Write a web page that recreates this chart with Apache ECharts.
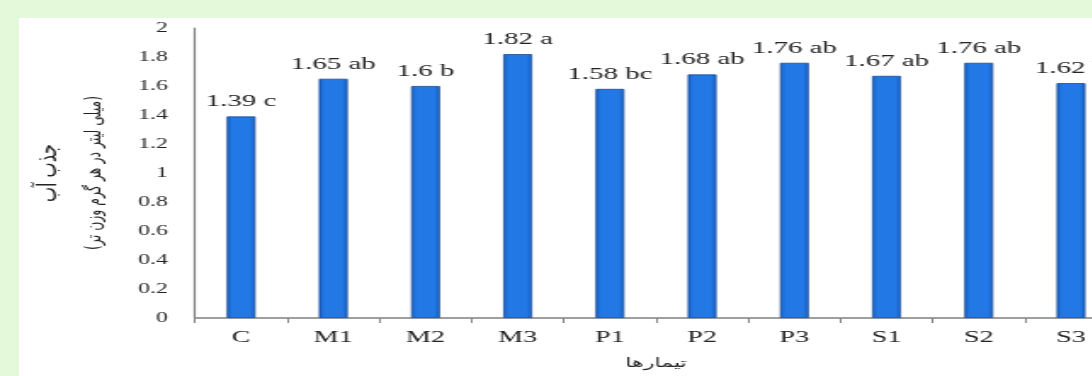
<!DOCTYPE html>
<html>
<head>
<meta charset="utf-8">
<script src="https://cdn.jsdelivr.net/npm/echarts@6/dist/echarts.min.js"></script>
<style>
  html, body { margin: 0; padding: 0; width: 1092px; height: 376px; overflow: hidden; background: #e4f9da; }
  #panel { position: absolute; left: 19px; top: 18px; right: 0; bottom: 0; background: #ffffff; }
  /* the chart is drawn narrow and widened with a horizontal stretch */
  #chart { position: absolute; left: 0; top: 0; width: 659px; height: 376px;
           transform: scaleX(1.7); transform-origin: 0 0; }
</style>
</head>
<body>
<div id="panel"></div>
<div id="chart"></div>
<script>
// Treatments and their mean water uptake with significance letters
const categories = ['C', 'M1', 'M2', 'M3', 'P1', 'P2', 'P3', 'S1', 'S2', 'S3'];
const values = [1.39, 1.65, 1.6, 1.82, 1.58, 1.68, 1.76, 1.67, 1.76, 1.62];
const letters = ['c', 'ab', 'b', 'a', 'bc', 'ab', 'ab', 'ab', 'ab', 'b'];
const yTitleMain = 'جذب آب';
const yTitleUnit = '(میلی لیتر در هر گرم وزن تر)';
const xTitle = 'تیمارها';

const serif = '"Liberation Serif", "DejaVu Serif", serif';
const arabic = '"DejaVu Sans", sans-serif';
const chart = echarts.init(document.getElementById('chart'));

chart.setOption({
  backgroundColor: 'transparent',
  animation: false,
  grid: { left: 114.7, top: 28, bottom: 58, width: 542.4, containLabel: false, outerBoundsMode: 'none' },
  xAxis: {
    type: 'category',
    data: categories,
    boundaryGap: true,
    name: xTitle,
    nameLocation: 'middle',
    nameGap: 39,
    nameTextStyle: { fontFamily: arabic, fontSize: 13, color: '#222' },
    axisLine: { lineStyle: { color: '#808080', width: 1.5 } },
    axisTick: { show: true, alignWithLabel: false, length: 5, lineStyle: { color: '#808080' } },
    axisLabel: { fontFamily: serif, fontSize: 16.5, color: '#222', margin: 11 },
    splitLine: { show: false }
  },
  yAxis: {
    type: 'value',
    min: 0,
    max: 2,
    interval: 0.2,
    name: '{a|' + yTitleMain + '}\n{b|' + yTitleUnit + '}',
    nameLocation: 'middle',
    nameGap: 46,
    nameTextStyle: {
      color: '#222',
      rich: {
        a: { fontFamily: arabic, fontSize: 16, lineHeight: 27, color: '#222' },
        b: { fontFamily: arabic, fontSize: 12.5, lineHeight: 26, color: '#222' }
      }
    },
    axisLine: { show: true, lineStyle: { color: '#808080', width: 1.2 } },
    axisTick: { show: false },
    axisLabel: { fontFamily: serif, fontSize: 14, color: '#222', margin: 16 },
    splitLine: { show: false }
  },
  series: [{
    type: 'bar',
    data: values,
    barWidth: 17,
    itemStyle: {
      color: new echarts.graphic.LinearGradient(0, 0, 1, 0, [
        { offset: 0, color: '#1a5fc4' },
        { offset: 0.2, color: '#2279e6' },
        { offset: 0.8, color: '#2279e6' },
        { offset: 1, color: '#1a5fc4' }
      ]),
      borderColor: '#1a4c96',
      borderWidth: 0.8
    },
    label: {
      show: true,
      position: 'top',
      distance: 6,
      fontFamily: serif,
      fontSize: 17,
      color: '#222',
      formatter: p => p.value + ' ' + letters[p.dataIndex]
    }
  }]
});
</script>
</body>
</html>
